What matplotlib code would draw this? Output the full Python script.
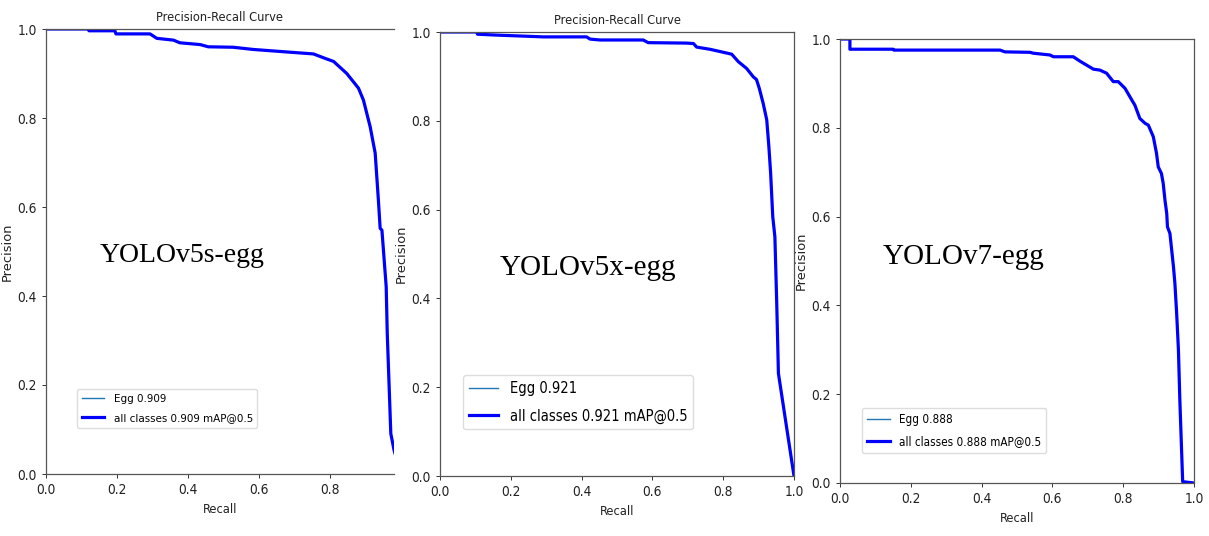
import matplotlib.pyplot as plt
from matplotlib import font_manager

"""values read off the three PR curves"""
recall_v5s = [0.0, 0.12, 0.121, 0.194, 0.197, 0.293, 0.312, 0.359, 0.377, 0.434, 0.457, 0.527,
              0.584, 0.668, 0.753, 0.786, 0.81, 0.847, 0.88, 0.894, 0.913, 0.927, 0.936, 0.941,
              0.946, 0.958, 0.961, 0.966, 0.971, 0.98, 1.0]
precision_v5s = [1.0, 1.0, 0.996, 0.996, 0.989, 0.989, 0.979, 0.975, 0.969, 0.965, 0.96, 0.959,
                 0.954, 0.949, 0.944, 0.934, 0.927, 0.9, 0.867, 0.84, 0.78, 0.721, 0.616, 0.552,
                 0.548, 0.421, 0.316, 0.204, 0.091, 0.054, 0.0]

recall_v5x = [0.0, 0.104, 0.106, 0.16, 0.226, 0.292, 0.414, 0.424, 0.452, 0.574, 0.588, 0.697,
              0.716, 0.725, 0.763, 0.791, 0.824, 0.843, 0.866, 0.885, 0.894, 0.902, 0.913, 0.923,
              0.929, 0.934, 0.94, 0.946, 0.951, 0.956, 1.0]
precision_v5x = [1.0, 1.0, 0.995, 0.993, 0.991, 0.989, 0.989, 0.984, 0.982, 0.982, 0.976, 0.975,
                 0.974, 0.966, 0.961, 0.956, 0.95, 0.933, 0.918, 0.899, 0.893, 0.873, 0.839, 0.802,
                 0.742, 0.682, 0.584, 0.539, 0.396, 0.231, 0.0]

recall_v7 = [0.0, 0.028, 0.028, 0.15, 0.152, 0.452, 0.466, 0.537, 0.546, 0.593, 0.603, 0.659,
             0.678, 0.697, 0.716, 0.734, 0.753, 0.772, 0.786, 0.805, 0.824, 0.833, 0.847, 0.862,
             0.871, 0.885, 0.894, 0.899, 0.908, 0.913, 0.918, 0.923, 0.925, 0.932, 0.942, 0.946,
             0.951, 0.956, 0.96, 0.968, 1.0]
precision_v7 = [1.0, 1.0, 0.977, 0.977, 0.975, 0.975, 0.971, 0.97, 0.968, 0.964, 0.96, 0.96,
                0.95, 0.941, 0.932, 0.93, 0.923, 0.904, 0.904, 0.889, 0.863, 0.851, 0.821, 0.81,
                0.806, 0.78, 0.743, 0.712, 0.697, 0.675, 0.637, 0.607, 0.577, 0.562, 0.487, 0.45,
                0.382, 0.3, 0.187, 0.003, 0.0]

model_names = ["YOLOv5s-egg", "YOLOv5x-egg", "YOLOv7-egg"]
map_values = ["0.909", "0.921", "0.888"]
ticks = [0.0, 0.2, 0.4, 0.6, 0.8, 1.0]

W, H = 1209, 536

# the screenshots are squeezed sideways, so use a condensed face for flat text
cond = dict(family="DejaVu Sans", stretch="condensed")


def px_rect(left, right, top, bottom):
    """turn pixel edges into a figure fraction rect"""
    return [left / W, (H - bottom) / H, (right - left) / W, (bottom - top) / H]


def pr_plot(ax, rec, prec, name, ap, xmax, title, leg_xy, leg_size, txt_xy, txt_size):
    """draw one precision-recall panel"""
    ax.plot(rec, prec, color="#1f77b4", lw=1, label="Egg " + ap)
    ax.plot(rec, prec, color="blue", lw=2.3, label="all classes " + ap + " mAP@0.5")
    ax.set_xlim(0, xmax)
    ax.set_ylim(0, 1)
    ax.set_xticks([t for t in ticks if t <= xmax])
    ax.set_yticks(ticks)
    ax.tick_params(length=3, width=0.7, colors="#333333", labelcolor="#222222")
    for lab in ax.get_xticklabels() + ax.get_yticklabels():
        lab.set_fontproperties(font_manager.FontProperties(size=9.8, **cond))
    for s in ax.spines.values():
        s.set_color("#555555")
        s.set_linewidth(0.9)
    ax.set_xlabel("Recall", fontsize=9.2, color="#222222", labelpad=4, **cond)
    ax.set_ylabel("Precision", fontsize=9.4, color="#222222", labelpad=3)
    if title:
        ax.set_title("Precision-Recall Curve", fontsize=9.2, color="#222222", pad=6, **cond)
    ax.legend(loc="upper left", bbox_to_anchor=leg_xy, borderaxespad=0,
              prop=font_manager.FontProperties(size=leg_size, **cond), labelspacing=0.85,
              frameon=True, fancybox=True, framealpha=1, edgecolor="#dddddd")
    ax.text(txt_xy[0], txt_xy[1], name, transform=ax.transAxes, ha="left", va="center",
            fontsize=txt_size, family="Liberation Serif", color="black")


fig = plt.figure(figsize=(W / 100, H / 100), dpi=100)

ax1 = fig.add_axes(px_rect(46, 394, 29, 474))
pr_plot(ax1, recall_v5s, precision_v5s, model_names[0], map_values[0], 0.98, True,
        (0.089, 0.191), 8.25, (0.155, 0.492), 20)
ax1.spines["right"].set_visible(False)

ax2 = fig.add_axes(px_rect(440, 794, 32, 476))
pr_plot(ax2, recall_v5x, precision_v5x, model_names[1], map_values[1], 1.0, True,
        (0.065, 0.227), 10.5, (0.169, 0.468), 21)

ax3 = fig.add_axes(px_rect(840, 1194, 39, 483))
pr_plot(ax3, recall_v7, precision_v7, model_names[2], map_values[2], 1.0, False,
        (0.062, 0.169), 8.35, (0.121, 0.509), 21)

fig.savefig("out.png", dpi=100)
